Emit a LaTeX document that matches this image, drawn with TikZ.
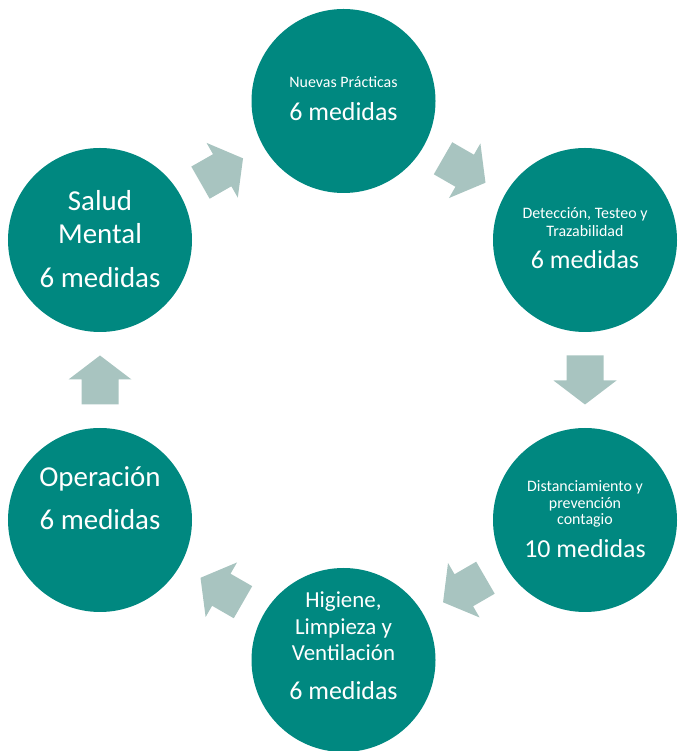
\documentclass[tikz,border=0pt]{standalone}
\usepackage{fontspec}
\setmainfont{Carlito}
\definecolor{stageteal}{RGB}{0,136,128}
\definecolor{arrowgray}{RGB}{168,196,192}
\tikzset{
  stage/.style={circle, fill=stageteal, minimum size=184bp, inner sep=0pt},
  lbl/.style={text=white, anchor=base, inner sep=0pt},
  smalltxt/.style={lbl, font=\fontsize{16}{19}\selectfont},
  midtxt/.style={lbl, font=\fontsize{23}{26}\selectfont},
  bigtxt/.style={lbl, font=\fontsize{26}{30}\selectfont},
  hugetxt/.style={lbl, font=\fontsize{29}{33}\selectfont},
  pics/blockarr/.style={code={
    \fill[arrowgray] (-24.5,-18.5) -- (0.5,-18.5) -- (0.5,-31.5) -- (24.5,0)
      -- (0.5,31.5) -- (0.5,18.5) -- (-24.5,18.5) -- cycle;
  }},
  flow/.style={midway, sloped, allow upside down}
}
\begin{document}
\begin{tikzpicture}[x=1bp,y=1bp]
\useasboundingbox (0,0) rectangle (679,751);
% circles
\node[stage] (A) at (343.5,650) {};
\node[stage] (B) at (585,511) {};
\node[stage] (C) at (585,231) {};
\node[stage] (D) at (343.5,91) {};
\node[stage] (E) at (100,231) {};
\node[stage] (F) at (100,511) {};
% texts
\node[smalltxt] (A1) at ([yshift=13bp]A.center) {Nuevas Prácticas};
\node[bigtxt]   (A2) at ([yshift=-20bp]A.center) {6 medidas};
\node[smalltxt] (B1) at ([yshift=21bp]B.center) {Detección, Testeo y};
\node[smalltxt] (B2) at ([yshift=3bp]B.center) {Trazabilidad};
\node[bigtxt]   (B3) at ([yshift=-29bp]B.center) {6 medidas};
\node[smalltxt] (C1) at ([yshift=28bp]C.center) {Distanciamiento y};
\node[smalltxt] (C2) at ([yshift=11.5bp]C.center) {prevención};
\node[smalltxt] (C3) at ([yshift=-5bp]C.center) {contagio};
\node[bigtxt]   (C4) at ([yshift=-38bp]C.center) {10 medidas};
\node[midtxt]   (D1) at ([yshift=52bp]D.center) {Higiene,};
\node[midtxt]   (D2) at ([yshift=25.5bp]D.center) {Limpieza y};
\node[midtxt]   (D3) at ([yshift=-1bp]D.center) {Ventilación};
\node[bigtxt]   (D4) at ([yshift=-40bp]D.center) {6 medidas};
\node[hugetxt]  (E1) at ([yshift=33bp]E.center) {Operación};
\node[hugetxt]  (E2) at ([yshift=-10bp]E.center) {6 medidas};
\node[hugetxt]  (F1) at ([yshift=29bp]F.center) {Salud};
\node[hugetxt]  (F2) at ([yshift=-4bp]F.center) {Mental};
\node[hugetxt]  (F3) at ([yshift=-48bp]F.center) {6 medidas};
% block arrows
\path (A) -- (B) pic[flow] {blockarr};
\path (B) -- (C) pic[flow] {blockarr};
\path (C) -- (D) pic[flow] {blockarr};
\path (D) -- (E) pic[flow] {blockarr};
\path (E) -- (F) pic[flow] {blockarr};
\path (F) -- (A) pic[flow] {blockarr};
\end{tikzpicture}
\end{document}
